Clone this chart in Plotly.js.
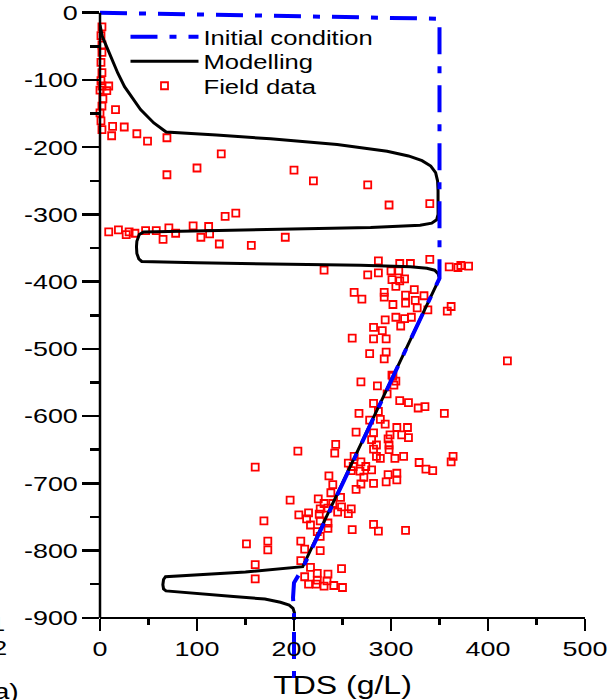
<!DOCTYPE html>
<html>
<head>
<meta charset="utf-8">
<script src="https://cdn.plot.ly/plotly-3.0.1.min.js"></script>
<style>html,body{margin:0;padding:0;background:#fff;}#chart{width:611px;height:700px;}</style>
</head>
<body>
<div id="chart"></div>
<script>
// ---------- DATA ----------
const initialTDS   = [0, 350, 350, 212, 209, 200, 199, 200, 200];
const initialDepth = [0, -9, -395, -814, -826, -848, -870, -895, -1000];

const modelTDS = [0, 2.3, 6.7, 12.6, 18.4, 25.3, 33.2, 41.8, 55.5, 68.2, 120, 175.8, 244.5, 296, 318, 332, 341, 346, 348, 348.5, 348.5, 347, 342, 330, 279, 227, 176, 100, 45, 40.5, 38, 37.6, 38, 40, 43, 100, 200, 268.6, 320, 337, 345, 348.5, 350, 212, 209, 150, 67.5, 65.5, 64.8, 65.5, 68, 137.6, 170, 186, 195, 199, 200.5, 200.5];
const modelDepth = [-18, -35, -50, -70, -90, -110, -127, -144, -164, -177.5, -182, -187.5, -196, -206, -213, -220, -228, -238, -250, -265, -300, -308, -313, -316, -319.5, -321, -322.5, -324.5, -326, -330, -340, -348, -358, -366, -370, -372, -374, -375.5, -378, -380, -383, -388, -395, -814, -824, -832, -839, -843, -851, -857, -860, -868.5, -872, -877, -881, -886, -893, -900];

const fieldTDS = [2,1,2,2,1,2,1,2,9,0,7,3,2,16,0,1,2,13,12,25,38,49,69,69,100,125,200,220,276,298,340,
 9,19,27,30,36,47,58,65,71,78,96,104,112,113,123,129,140,156,191,231,
 287,309,320,340,360,369,372,380,276,287,300,308,301,309,314,305,262,270,293,293,315,324,334,325,302,315,327,338,358,362,
 294,305,314,321,310,282,291,260,282,295,278,295,293,420,301,305,269,286,296,309,302,303,318,328,335,355,282,267,287,289,294,278,
 264,282,306,317,299,311,318,280,285,282,297,298,298,243,242,204,262,269,285,289,304,313,329,336,343,364,362,256,261,274,280,259,268,272,297,306,306,295,282,
 236,240,269,264,238,160,225,196,248,240,231,249,259,256,245,235,227,215,205,226,213,217,227,235,235,224,169,282,287,260,315,
 207,227,173,173,151,211,227,207,160,160,249,211,224,235,224,234,215,223,231,241,250,217];
const fieldDepth = [-21,-34,-48,-59,-74,-89,-101,-109,-109,-115,-116,-128,-139,-144,-149,-161,-174,-169,-183,-170,-180,-191,-186,-241,-231,-210,-234,-250,-256,-286,-284,
 -326,-323,-330,-326,-328,-324,-324,-337,-320,-328,-317,-334,-318,-329,-344,-303,-298,-346,-334,-383,
 -369,-373,-373,-367,-378,-379,-376,-377,-390,-387,-384,-384,-397,-399,-396,-407,-416,-426,-416,-423,-420,-412,-421,-428,-434,-432,-439,-442,-444,-437,
 -457,-453,-455,-453,-466,-468,-473,-484,-485,-485,-507,-505,-515,-518,-539,-548,-549,-555,-567,-577,-541,-554,-580,-588,-586,-596,-581,-596,-593,-605,-612,-606,
 -624,-625,-617,-617,-628,-628,-632,-635,-643,-649,-634,-643,-650,-642,-655,-652,-660,-668,-660,-663,-663,-660,-669,-679,-681,-660,-668,-670,-675,-675,-680,-681,-682,-691,-687,-685,-695,-698,-700,
 -689,-702,-701,-709,-714,-676,-723,-725,-721,-730,-730,-735,-738,-745,-743,-737,-738,-744,-747,-746,-753,-762,-756,-759,-767,-772,-756,-761,-771,-769,-770,
 -786,-779,-786,-799,-790,-798,-800,-815,-821,-842,-827,-839,-834,-835,-844,-845,-850,-850,-853,-852,-855,-825];

const xTicks = [0, 100, 200, 300, 400, 500];
const xMinor = [50, 150, 250, 350, 450];
const yTicks = [0, -100, -200, -300, -400, -500, -600, -700, -800, -900];
const yMinor = [-50, -150, -250, -350, -450, -550, -650, -750, -850];

const seriesNames = ['Initial condition', 'Modelling', 'Field data'];

// ---------- LAYOUT ----------
const Y_MIN = -1000, Y_MAX = 10, Y_AXIS_BOTTOM = -900;
const FONT = 'Liberation Sans, Arial, Helvetica, sans-serif';
const W = 611, H = 700;
const mL = 99.5, mR = 26.4, mT = 6.3, mB = 15;
const plotW = W - mL - mR, plotH = H - mT - mB;
const px2x = px => (px - mL) / plotW;
const py2y = py => (H - mB - py) / plotH;
const yFrac = v => (v - Y_MIN) / (Y_MAX - Y_MIN);

const traces = [
  {x: fieldTDS, y: fieldDepth, name: seriesNames[2], type: 'scatter', mode: 'markers', legend: 'legend3',
   cliponaxis: false,
   marker: {symbol: 'square-open', size: 7, color: '#ff0000', line: {width: 1.8, color: '#ff0000'}}},
  {x: modelTDS, y: modelDepth, name: seriesNames[1], type: 'scatter', mode: 'lines', legend: 'legend2',
   line: {color: '#000000', width: 3}},
  {x: initialTDS, y: initialDepth, name: seriesNames[0], type: 'scatter', mode: 'lines', legend: 'legend',
   line: {color: '#0000ff', width: 4, dash: '27px,12px,7px,12px'}}
];

const LEG_X = 125;
function makeLegend(py) {
  return {x: px2x(LEG_X), y: py2y(py), xanchor: 'left', yanchor: 'middle', bgcolor: 'rgba(0,0,0,0)', borderwidth: 0,
          font: {family: FONT, size: 20, color: '#000000'}, itemwidth: 68};
}

const layout = {
  width: W, height: H,
  margin: {l: mL, r: mR, t: mT, b: mB, pad: 0},
  paper_bgcolor: '#ffffff', plot_bgcolor: 'rgba(0,0,0,0)',
  font: {family: FONT, color: '#000000', size: 20},
  showlegend: true,
  legend:  makeLegend(37),
  legend2: makeLegend(61.5),
  legend3: makeLegend(86),
  xaxis: {range: [0, 500], anchor: 'free', position: yFrac(Y_AXIS_BOTTOM), showline: true, linecolor: '#000', linewidth: 2.5,
          ticks: 'outside', ticklen: 12, tickwidth: 2.5, tickcolor: '#000', tickmode: 'array', tickvals: xTicks,
          ticktext: xTicks.map(String), tickfont: {family: FONT, size: 21, color: '#000'},
          minor: {tickmode: 'array', tickvals: xMinor, ticks: 'outside', ticklen: 6, tickwidth: 2.5, tickcolor: '#000', showgrid: false},
          showgrid: false, zeroline: false, fixedrange: true,
          title: {text: 'TDS (g/L)', font: {family: FONT, size: 25, color: '#000'}, standoff: 16}},
  yaxis: {range: [Y_MIN, Y_MAX], showline: false,
          ticks: 'outside', ticklen: 17, tickwidth: 2.5, tickcolor: '#000', tickmode: 'array', tickvals: yTicks,
          ticktext: yTicks.map(String), tickfont: {family: FONT, size: 21, color: '#000'},
          minor: {tickmode: 'array', tickvals: yMinor, ticks: 'outside', ticklen: 9, tickwidth: 2.5, tickcolor: '#000', showgrid: false},
          showgrid: false, zeroline: false, fixedrange: true},
  shapes: [
    {type: 'line', xref: 'paper', yref: 'paper', x0: 0, x1: 0, y0: yFrac(Y_AXIS_BOTTOM), y1: yFrac(0),
     line: {color: '#000', width: 2.5}, layer: 'above'}
  ],
  annotations: [
    {text: '2', xref: 'paper', yref: 'paper', x: px2x(7), y: py2y(648), xanchor: 'right', yanchor: 'middle', showarrow: false,
     font: {family: FONT, size: 21, color: '#000'}},
    {text: '1', xref: 'paper', yref: 'paper', x: px2x(5), y: py2y(624), xanchor: 'right', yanchor: 'middle', showarrow: false,
     font: {family: FONT, size: 21, color: '#000'}},
    {text: '(a)', xref: 'paper', yref: 'paper', x: px2x(16), y: py2y(691), xanchor: 'right', yanchor: 'middle', showarrow: false,
     font: {family: FONT, size: 22, color: '#000'}}
  ]
};

// The reference's lettering is horizontally widened; widen the real SVG text the same way.
const STRETCH = 1.28;
function stretchOne(t) {
  if (t.getAttribute('data-stretched')) return;
  const w = t.getComputedTextLength();
  if (w > 0) {
    t.setAttribute('textLength', (w * STRETCH).toFixed(2));
    t.setAttribute('lengthAdjust', 'spacingAndGlyphs');
    t.setAttribute('data-stretched', '1');
  }
}
function stretchTexts(gd) {
  gd.querySelectorAll('.xtick text, .ytick text, .g-xtitle text, .annotation-text').forEach(stretchOne);
  gd.querySelectorAll('text').forEach(t => {
    if (seriesNames.indexOf(t.textContent) >= 0) stretchOne(t);
  });
  // let stretched legend labels extend past the legends' original clip boxes
  gd.querySelectorAll('.infolayer [clip-path]').forEach(e => {
    let p = e, inLegend = false;
    while (p && p !== gd) {
      const c = p.getAttribute && p.getAttribute('class');
      if (c && /(^|\s)legend\d*(\s|$)/.test(c)) { inLegend = true; break; }
      p = p.parentNode;
    }
    if (inLegend) e.removeAttribute('clip-path');
  });
}

const gd = document.getElementById('chart');
Plotly.newPlot(gd, traces, layout, {staticPlot: true, displayModeBar: false}).then(() => {
  stretchTexts(gd);
  setTimeout(() => stretchTexts(gd), 50);
});
</script>
</body>
</html>
